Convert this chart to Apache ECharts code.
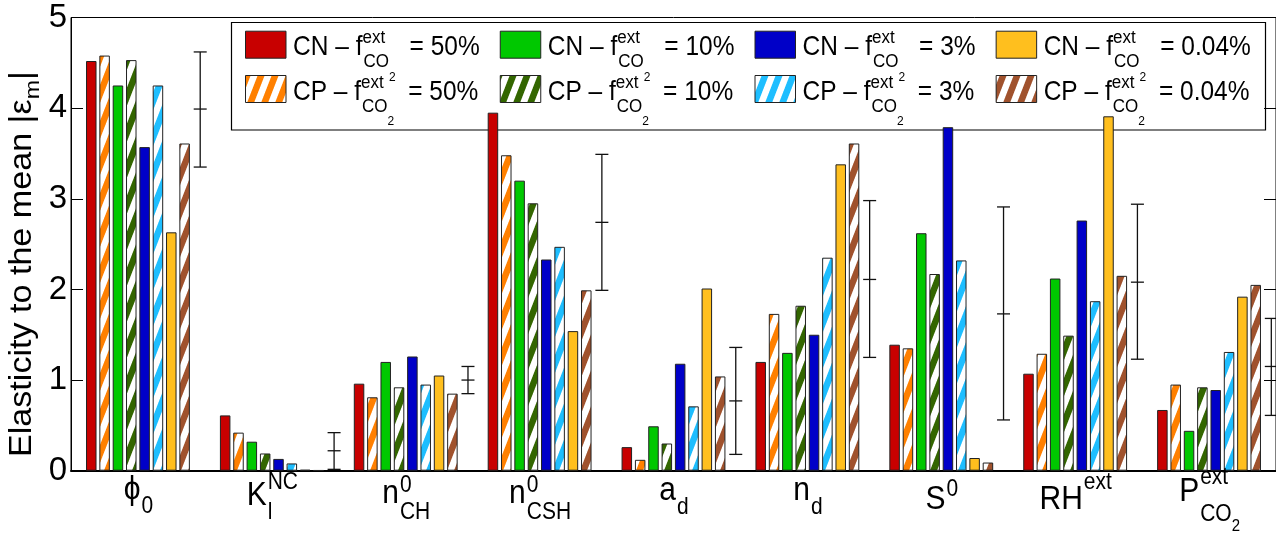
<!DOCTYPE html>
<html><head><meta charset="utf-8">
<script src="https://cdn.jsdelivr.net/npm/echarts@6/dist/echarts.min.js"></script>
<style>html,body{margin:0;padding:0;background:#fff}#c{width:1276px;height:533px}</style>
</head><body><div id="c"></div>
<script>
// ---------------- data ----------------
const categories = ['phi_0', 'K_l^NC', 'n_CH^0', 'n_CSH^0', 'a_d', 'n_d', 'S^0', 'RH^ext', 'P_CO2^ext'];
const seriesNames = ['CN 50%', 'CP 50%', 'CN 10%', 'CP 10%', 'CN 3%', 'CP 3%', 'CN 0.04%', 'CP 0.04%'];
const cn50  = [4.52, 0.61, 0.96, 3.95, 0.26, 1.20, 1.39, 1.07, 0.67];
const cp50  = [4.58, 0.42, 0.81, 3.48, 0.12, 1.73, 1.35, 1.29, 0.95];
const cn10  = [4.25, 0.32, 1.20, 3.20, 0.49, 1.30, 2.62, 2.12, 0.44];
const cp10  = [4.53, 0.19, 0.92, 2.95, 0.30, 1.82, 2.17, 1.49, 0.92];
const cn3   = [3.57, 0.13, 1.26, 2.33, 1.18, 1.50, 3.79, 2.76, 0.89];
const cp3   = [4.25, 0.08, 0.95, 2.47, 0.71, 2.35, 2.32, 1.87, 1.31];
const cn004 = [2.63, 0.01, 1.05, 1.54, 2.01, 3.38, 0.14, 3.91, 1.92];
const cp004 = [3.61, 0.005, 0.85, 1.99, 1.04, 3.61, 0.09, 2.15, 2.05];
const errLow  = [3.35, 0.015, 0.85, 1.99, 0.18, 1.25, 0.56, 1.23, 0.61];
const errMid  = [3.99, 0.22, 1.00, 2.74, 0.77, 2.11, 1.73, 2.08, 1.15];
const errHigh = [4.62, 0.42, 1.15, 3.49, 1.36, 2.98, 2.91, 2.94, 1.68];
const yTicks = [0, 1, 2, 3, 4, 5];
const legendPrefix = ['CN', 'CP'];
const legendPct = ['50%', '10%', '3%', '0.04%'];
const yTitle = ['Elasticity to the mean |\u03b5', 'm', '|'];
// x tick label pieces: main, superscript, subscript, sub-subscript
const xLabelMain = ['\u03d5', 'K', 'n', 'n', 'a', 'n', 'S', 'RH', 'P'];
const xLabelSup  = ['', 'NC', '0', '0', '', '', '0', 'ext', 'ext'];
const xLabelSub  = ['0', 'l', 'CH', 'CSH', 'd', 'd', '', '', 'CO'];
const xLabelSub2 = ['', '', '', '', '', '', '', '', '2'];

// ---------------- style ----------------
const FF = '"Liberation Sans", Arial, Helvetica, sans-serif';
const SY = 1.1;
const colors = ['#C80000', '#FF8000', '#00C800', '#336600', '#0000C8', '#1EBEFF', '#FFBF1E', '#A0522D'];
const hatched = [false, true, false, true, false, true, false, true];
const values = [cn50, cp50, cn10, cp10, cn3, cp3, cn004, cp004];

function hexRgb(h) { return [parseInt(h.substr(1,2),16), parseInt(h.substr(3,2),16), parseInt(h.substr(5,2),16)]; }
function stripeCanvas(color) {
  const W = 14, H = 36;
  const c = document.createElement('canvas'); c.width = W; c.height = H;
  const g = c.getContext('2d'); const img = g.createImageData(W, H);
  const [r, gg, b] = hexRgb(color);
  for (let y = 0; y < H; y++) for (let x = 0; x < W; x++) {
    let acc = 0;
    for (let sy = 0; sy < 4; sy++) for (let sx = 0; sx < 4; sx++) {
      const u = (x + (sx + 0.5) / 4) / W + (y + (sy + 0.5) / 4) / H;
      if (u - Math.floor(u) < 0.5) acc++;
    }
    const f = acc / 16, k = (y * W + x) * 4;
    img.data[k] = Math.round(255 * f + r * (1 - f));
    img.data[k+1] = Math.round(255 * f + gg * (1 - f));
    img.data[k+2] = Math.round(255 * f + b * (1 - f));
    img.data[k+3] = 255;
  }
  g.putImageData(img, 0, 0);
  return c;
}
function fillFor(i) { return hatched[i] ? { image: stripeCanvas(colors[i]), repeat: 'repeat' } : colors[i]; }

const mctx = document.createElement('canvas').getContext('2d');
function mw(s, F) { mctx.font = F + 'px ' + FF; return mctx.measureText(s).width; }
function txt(s, x, B, F, z) {
  return { type: 'text', x: x, y: B - 0.33 * F * SY, scaleY: SY, z: z || 5, silent: true,
    style: { text: s, x: 0, y: 0, fontSize: F, fontFamily: FF, fill: '#000',
      align: 'left', verticalAlign: 'middle', textAlign: 'left', textVerticalAlign: 'middle' } };
}

const chart = echarts.init(document.getElementById('c'), null, { renderer: 'canvas' });
const GRID = { left: 71, top: 17.5, width: 1211, height: 453.2 };

const barSeries = values.map((v, i) => ({
  name: seriesNames[i], type: 'bar', data: v, barWidth: 10.5, barGap: '27%',
  itemStyle: { color: fillFor(i), borderColor: '#222', borderWidth: 1 },
  emphasis: { disabled: true }, z: 3
}));

const errSeries = {
  type: 'custom', z: 4, silent: true,
  data: categories.map((c, i) => [i, errLow[i], errMid[i], errHigh[i]]),
  encode: { x: 0, y: [1, 2, 3] },
  renderItem: function (params, api) {
    const i = api.value(0);
    const band = api.size([1, 0])[0];
    const pl = api.coord([i, api.value(1)]);
    const pm = api.coord([i, api.value(2)]);
    const ph = api.coord([i, api.value(3)]);
    const x = pl[0] + 0.465 * band, hw = 6.5;
    const st = { stroke: '#111', lineWidth: 1.3 };
    return { type: 'group', children: [
      { type: 'line', shape: { x1: x, y1: pl[1], x2: x, y2: ph[1] }, style: st },
      { type: 'line', shape: { x1: x - hw, y1: pl[1], x2: x + hw, y2: pl[1] }, style: st },
      { type: 'line', shape: { x1: x - hw, y1: pm[1], x2: x + hw, y2: pm[1] }, style: st },
      { type: 'line', shape: { x1: x - hw, y1: ph[1], x2: x + hw, y2: ph[1] }, style: st }
    ] };
  }
};

chart.setOption({
  animation: false,
  backgroundColor: '#fff',
  grid: Object.assign({ show: true, borderColor: '#000', borderWidth: 1, backgroundColor: 'transparent' }, GRID),
  xAxis: {
    type: 'category', data: categories,
    axisLine: { lineStyle: { color: '#000', width: 2 } },
    axisTick: { show: false }, axisLabel: { show: false }
  },
  yAxis: [
    { type: 'value', min: yTicks[0], max: yTicks[yTicks.length - 1], interval: 1,
      axisLine: { show: true, lineStyle: { color: '#000', width: 1 } },
      axisTick: { show: true, inside: true, length: 12, lineStyle: { color: '#000' } },
      axisLabel: { fontSize: 33, fontFamily: FF, color: '#000', margin: 4 },
      splitLine: { show: false } },
    { type: 'value', position: 'right', min: yTicks[0], max: yTicks[yTicks.length - 1], interval: 1,
      axisLine: { show: false },
      axisTick: { show: true, inside: true, length: 12, lineStyle: { color: '#000' } },
      axisLabel: { show: false }, splitLine: { show: false } }
  ],
  series: barSeries.concat([errSeries])
});

// ---------------- texts: legend, x labels, y title ----------------
const els = [];
// legend box (drawn below the bars, as in the reference)
els.push({ type: 'rect', z: 0, silent: true, shape: { x: 231.5, y: 22.5, width: 1034, height: 107.5 },
  style: { fill: '#fff', stroke: '#000', lineWidth: 1.2 } });
const LF = 24.5, LS = 17, LSS = 12;
const rowB = [56.7, 101];
let colX = [];
{
  let x0 = 245;
  for (let j = 0; j < 4; j++) {
    colX.push(x0);
    const w1 = mw('CN \u2013 f', LF);
    const ws = Math.max(mw('ext', LS), mw('CO', LS) + mw('2', LSS));
    const w3 = mw('= ' + legendPct[j], LF);
    x0 = x0 + 48 + w1 + ws + 15 + w3 + 20;
  }
}
for (let r = 0; r < 2; r++) {
  for (let j = 0; j < 4; j++) {
    const si = j * 2 + r; // series index
    const x0 = colX[j], B = rowB[r];
    els.push({ type: 'rect', z: 1, silent: true, shape: { x: x0 + 0.5, y: B - 26 + 0.5, width: 40.5, height: 27 },
      style: { fill: fillFor(si), stroke: '#222', lineWidth: 1 } });
    const t1 = legendPrefix[r] + ' \u2013 f';
    const xa = x0 + 48;
    els.push(txt(t1, xa, B, LF, 1));
    const xs = xa + mw(t1, LF);
    els.push(txt('ext', xs, B - 12.4, LS, 1));
    els.push(txt('CO', xs + 1, B + 11.6, LS, 1));
    els.push(txt('2', xs + 1 + mw('CO', LS), B + 25, LSS, 1));
    const ws = Math.max(mw('ext', LS), mw('CO', LS) + mw('2', LSS));
    els.push(txt('= ' + legendPct[j], xs + ws + 15, B, LF, 1));
  }
}
// x tick labels
const XF = 30, XS = 21, XSS = 15;
const xB    = [501, 507, 505, 505, 502, 502, 511, 511, 503];
const xSupB = [0, 490, 493, 493, 0, 0, 497, 490, 485];
const xSubB = [514, 520, 520, 520, 515, 515, 0, 0, 522];
categories.forEach((cat, i) => {
  const c = chart.convertToPixel({ xAxisIndex: 0 }, cat);
  const wm = mw(xLabelMain[i], XF);
  const wsup = xLabelSup[i] ? mw(xLabelSup[i], XS) : 0;
  const wsub = xLabelSub[i] ? mw(xLabelSub[i], XS) + (xLabelSub2[i] ? mw(xLabelSub2[i], XSS) : 0) : 0;
  const total = wm + Math.max(wsup, wsub);
  const x0 = c - total / 2;
  els.push(txt(xLabelMain[i], x0, xB[i], XF));
  if (xLabelSup[i]) els.push(txt(xLabelSup[i], x0 + wm + 1, xSupB[i], XS));
  if (xLabelSub[i]) {
    els.push(txt(xLabelSub[i], x0 + wm + 1, xSubB[i], XS));
    if (xLabelSub2[i]) els.push(txt(xLabelSub2[i], x0 + wm + 1 + mw(xLabelSub[i], XS), xSubB[i] + 10, XSS));
  }
});
// y axis title (rotated, stretched along its length)
{
  const F = 31, FS = 21;
  const w0 = mw(yTitle[0], F), w1 = mw(yTitle[1], FS);
  const mk = (s, lx, ly, f) => ({ type: 'text', x: lx, y: ly - 0.33 * f, silent: true,
    style: { text: s, x: 0, y: 0, fontSize: f, fontFamily: FF, fill: '#000', align: 'left', verticalAlign: 'middle', textAlign: 'left', textVerticalAlign: 'middle' } });
  els.push({ type: 'group', x: 33, y: 457, rotation: Math.PI / 2, scaleX: SY, z: 5, silent: true,
    children: [ mk(yTitle[0], 0, 0, F), mk(yTitle[1], w0, 7, FS), mk(yTitle[2], w0 + w1, 0, F) ] });
}
chart.setOption({ graphic: { elements: els } });
</script>
</body></html>
